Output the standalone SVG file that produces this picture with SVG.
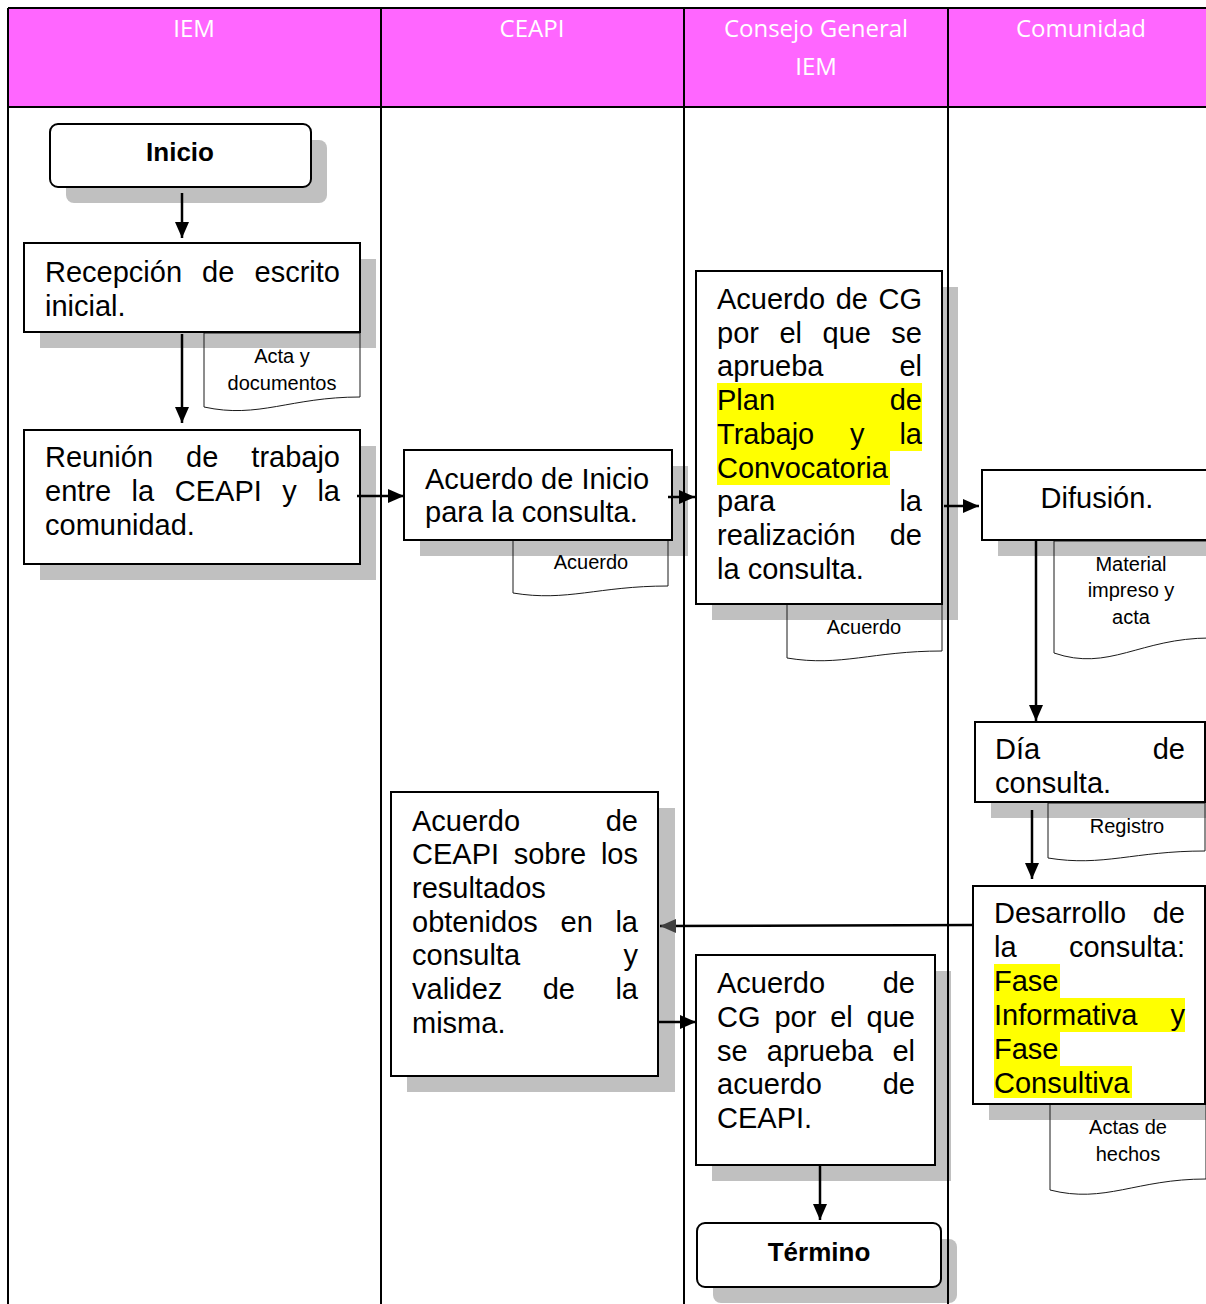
<svg xmlns="http://www.w3.org/2000/svg" width="1206" height="1304" viewBox="0 0 1206 1304">
<defs>
<style>
.hdr{fill:#FF66FF}
.lane{stroke:#000;stroke-width:2;fill:none}
.sh{fill:#C0C0C0}
.box{fill:#fff;stroke:#000;stroke-width:2}
.doc{fill:none;stroke:#1a1a1a;stroke-width:1}
.hl{fill:#FFFF00}
.ht{font-family:"Open Sans","Liberation Sans",sans-serif;font-size:24px;fill:#fff;text-anchor:middle}
.t{font-family:"Liberation Sans",Arial,sans-serif;font-size:29px;fill:#000}
.e{text-anchor:end}
.m{text-anchor:middle}
.b{font-family:"Liberation Sans",Arial,sans-serif;font-size:26px;font-weight:bold;fill:#000;text-anchor:middle}
.d{font-family:"Liberation Sans",Arial,sans-serif;font-size:20px;fill:#000;text-anchor:middle}
.c{stroke:#000;stroke-width:2.5;fill:none}
</style>
<marker id="ah" markerUnits="userSpaceOnUse" markerWidth="16" markerHeight="14" refX="16" refY="7" orient="auto">
<path d="M0,0 L16,7 L0,14 Z" fill="#000"/>
</marker>
<marker id="ahg" markerUnits="userSpaceOnUse" markerWidth="16" markerHeight="14" refX="16" refY="7" orient="auto">
<path d="M0,0 L16,7 L0,14 Z" fill="#404040"/>
</marker>
</defs>
<rect x="0" y="0" width="1206" height="1304" fill="#fff"/>
<g id="header">
<rect class="hdr" x="8" y="8" width="1200" height="99"/>
<text class="ht" x="194" y="37">IEM</text>
<text class="ht" x="532" y="37">CEAPI</text>
<text class="ht" x="816" y="37">Consejo General</text>
<text class="ht" x="816" y="75">IEM</text>
<text class="ht" x="1081" y="37">Comunidad</text>
</g>
<g id="shadows">
<rect class="sh" x="66" y="140" width="261" height="63" rx="8"/>
<rect class="sh" x="40" y="259" width="336" height="89"/>
<rect class="sh" x="40" y="446" width="336" height="134"/>
<rect class="sh" x="420" y="466" width="268" height="90"/>
<rect class="sh" x="712" y="287" width="246" height="333"/>
<rect class="sh" x="998" y="486" width="210" height="70"/>
<rect class="sh" x="991" y="738" width="217" height="80"/>
<rect class="sh" x="989" y="902" width="219" height="218"/>
<rect class="sh" x="407" y="808" width="268" height="284"/>
<rect class="sh" x="712" y="971" width="239" height="210"/>
<rect class="sh" x="713" y="1239" width="244" height="64" rx="8"/>
</g>
<g id="lanes">
<path class="lane" d="M8,8 H1208 M8,107 H1208 M8,8 V1306 M381,8 V1306 M684,8 V1306 M948,8 V1306"/>
</g>
<g id="inicio">
<rect class="box" x="50" y="124" width="261" height="63" rx="8"/>
<text class="b" x="180" y="161">Inicio</text>
</g>
<g id="recepcion">
<path class="doc" d="M204,333 H360 V397 C290,397 259,419 204,407 Z"/>
<text class="d" x="282" y="363">Acta y</text>
<text class="d" x="282" y="390">documentos</text>
<rect class="box" x="24" y="243" width="336" height="89"/>
<text class="t" x="45" y="282">Recepción</text>
<text class="t" x="202" y="282">de</text>
<text class="t e" x="340" y="282">escrito</text>
<text class="t" x="45" y="316">inicial.</text>
</g>
<g id="reunion">
<rect class="box" x="24" y="430" width="336" height="134"/>
<text class="t" x="45" y="467">Reunión</text>
<text class="t" x="186" y="467">de</text>
<text class="t e" x="340" y="467">trabajo</text>
<text class="t" x="45" y="501">entre</text>
<text class="t" x="131.6" y="501">la</text>
<text class="t" x="174.8" y="501">CEAPI</text>
<text class="t" x="282.3" y="501">y</text>
<text class="t e" x="340" y="501">la</text>
<text class="t" x="45" y="535">comunidad.</text>
</g>
<g id="acuerdo-inicio">
<path class="doc" d="M513,539 H668 V586 C598,586 567,602 513,593 Z"/>
<text class="d" x="591" y="569">Acuerdo</text>
<rect class="box" x="404" y="450" width="268" height="90"/>
<text class="t" x="425" y="489">Acuerdo de Inicio</text>
<text class="t" x="425" y="522">para la consulta.</text>
</g>
<g id="acuerdo-cg-plan">
<path class="doc" d="M787,604 H942 V651 C872,651 841,667 787,658 Z"/>
<text class="d" x="864" y="634">Acuerdo</text>
<rect class="box" x="696" y="271" width="246" height="333"/>
<rect class="hl" x="717" y="383" width="205" height="68"/>
<rect class="hl" x="717" y="451" width="173" height="34"/>
<text class="t" x="717" y="309">Acuerdo</text>
<text class="t" x="835.7" y="309">de</text>
<text class="t e" x="922" y="309">CG</text>
<text class="t" x="717" y="343">por</text>
<text class="t" x="779.4" y="343">el</text>
<text class="t" x="822.5" y="343">que</text>
<text class="t e" x="922" y="343">se</text>
<text class="t" x="717" y="376">aprueba</text>
<text class="t e" x="922" y="376">el</text>
<text class="t" x="717" y="410">Plan</text>
<text class="t e" x="922" y="410">de</text>
<text class="t" x="717" y="444">Trabajo</text>
<text class="t" x="850.1" y="444">y</text>
<text class="t e" x="922" y="444">la</text>
<text class="t" x="717" y="478">Convocatoria</text>
<text class="t" x="717" y="511">para</text>
<text class="t e" x="922" y="511">la</text>
<text class="t" x="717" y="545">realización</text>
<text class="t e" x="922" y="545">de</text>
<text class="t" x="717" y="579">la consulta.</text>
</g>
<g id="difusion">
<path class="doc" d="M1054,541 H1210 V638 C1140,638 1109,672 1054,653 Z"/>
<text class="d" x="1131" y="571">Material</text>
<text class="d" x="1131" y="597">impreso y</text>
<text class="d" x="1131" y="624">acta</text>
<rect class="box" x="982" y="470" width="230" height="70"/>
<text class="t m" x="1097" y="508">Difusión.</text>
</g>
<g id="dia-consulta">
<path class="doc" d="M1048,803 H1205 V851 C1134,851 1103,867 1048,858 Z"/>
<text class="d" x="1127" y="833">Registro</text>
<rect class="box" x="975" y="722" width="230" height="80"/>
<text class="t" x="995" y="759">Día</text>
<text class="t e" x="1185" y="759">de</text>
<text class="t" x="995" y="793">consulta.</text>
</g>
<g id="desarrollo">
<path class="doc" d="M1050,1104 H1206 V1179 C1136,1179 1105,1204 1050,1190 Z"/>
<text class="d" x="1128" y="1134">Actas de</text>
<text class="d" x="1128" y="1161">hechos</text>
<rect class="box" x="973" y="886" width="232" height="218"/>
<rect class="hl" x="994" y="964" width="66" height="34"/>
<rect class="hl" x="994" y="998" width="191" height="34"/>
<rect class="hl" x="994" y="1032" width="66" height="34"/>
<rect class="hl" x="994" y="1066" width="138" height="32"/>
<text class="t" x="994" y="923">Desarrollo</text>
<text class="t e" x="1185" y="923">de</text>
<text class="t" x="994" y="957">la</text>
<text class="t e" x="1185" y="957">consulta:</text>
<text class="t" x="994" y="991">Fase</text>
<text class="t" x="994" y="1025">Informativa</text>
<text class="t e" x="1185" y="1025">y</text>
<text class="t" x="994" y="1059">Fase</text>
<text class="t" x="994" y="1093">Consultiva</text>
</g>
<g id="acuerdo-ceapi">
<rect class="box" x="391" y="792" width="267" height="284"/>
<text class="t" x="412" y="831">Acuerdo</text>
<text class="t e" x="638" y="831">de</text>
<text class="t" x="412" y="864">CEAPI</text>
<text class="t" x="513.7" y="864">sobre</text>
<text class="t e" x="638" y="864">los</text>
<text class="t" x="412" y="898">resultados</text>
<text class="t" x="412" y="932">obtenidos</text>
<text class="t" x="560.5" y="932">en</text>
<text class="t e" x="638" y="932">la</text>
<text class="t" x="412" y="965">consulta</text>
<text class="t e" x="638" y="965">y</text>
<text class="t" x="412" y="999">validez</text>
<text class="t" x="542.7" y="999">de</text>
<text class="t e" x="638" y="999">la</text>
<text class="t" x="412" y="1033">misma.</text>
</g>
<g id="acuerdo-cg-final">
<rect class="box" x="696" y="955" width="239" height="210"/>
<text class="t" x="717" y="993">Acuerdo</text>
<text class="t e" x="915" y="993">de</text>
<text class="t" x="717" y="1027">CG</text>
<text class="t" x="774.4" y="1027">por</text>
<text class="t" x="830.2" y="1027">el</text>
<text class="t e" x="915" y="1027">que</text>
<text class="t" x="717" y="1061">se</text>
<text class="t" x="766.8" y="1061">aprueba</text>
<text class="t e" x="915" y="1061">el</text>
<text class="t" x="717" y="1094">acuerdo</text>
<text class="t e" x="915" y="1094">de</text>
<text class="t" x="717" y="1128">CEAPI.</text>
</g>
<g id="termino">
<rect class="box" x="697" y="1223" width="244" height="64" rx="8"/>
<text class="b" x="819" y="1261">Término</text>
</g>
<g id="connectors">
<line class="c" x1="182" y1="193" x2="182" y2="238" marker-end="url(#ah)"/>
<line class="c" x1="182" y1="334" x2="182" y2="423" marker-end="url(#ah)"/>
<line class="c" x1="357" y1="496" x2="404" y2="496" marker-end="url(#ah)"/>
<line class="c" x1="668" y1="497" x2="695" y2="497" marker-end="url(#ah)"/>
<line class="c" x1="944" y1="506" x2="979" y2="506" marker-end="url(#ah)"/>
<line class="c" x1="1036" y1="540" x2="1036" y2="721" marker-end="url(#ah)"/>
<line class="c" x1="1032" y1="810" x2="1032" y2="879" marker-end="url(#ah)"/>
<line class="c" x1="973" y1="925" x2="660" y2="926" marker-end="url(#ahg)"/>
<line class="c" x1="658" y1="1022" x2="696" y2="1022" marker-end="url(#ah)"/>
<line class="c" x1="820" y1="1165" x2="820" y2="1220" marker-end="url(#ah)"/>
</g>
</svg>
